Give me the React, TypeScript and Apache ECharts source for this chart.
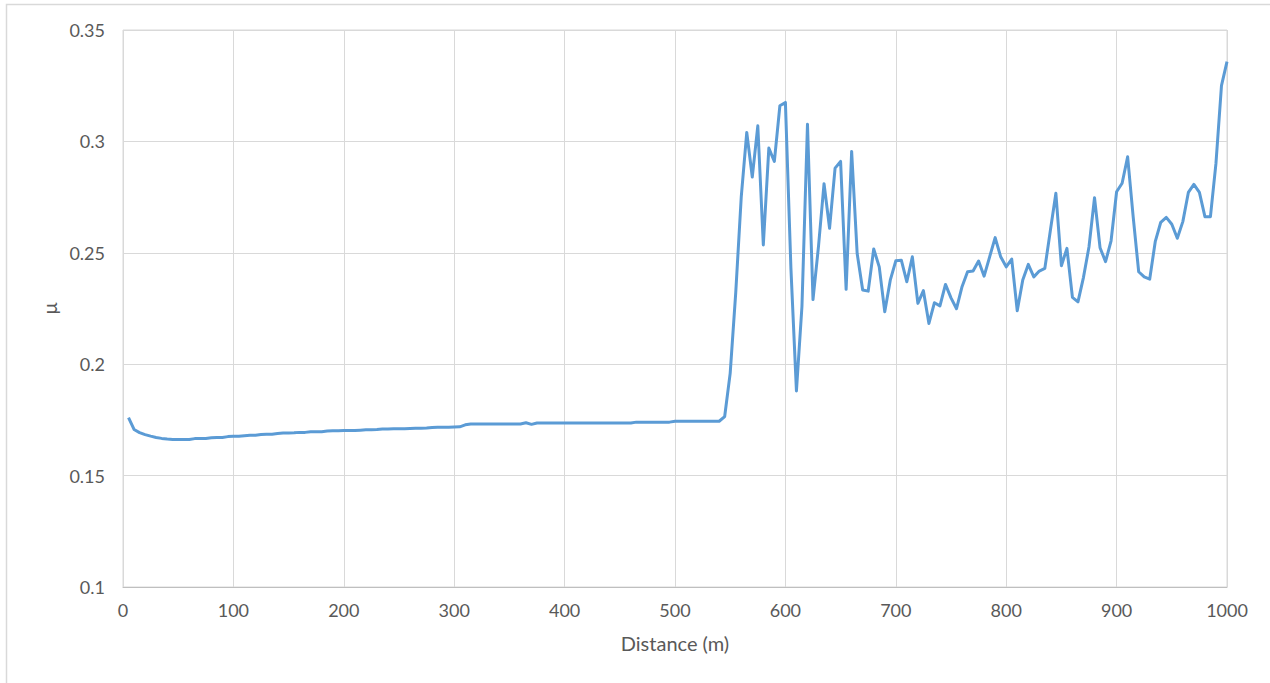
import React, { useEffect, useRef } from "react";
import * as echarts from "echarts";

// Sampling interval of the friction survey (m)
const STEP_M = 5;

// μ along the smooth section, 5 m … 540 m
const smoothSection: number[] = [
  0.1760, 0.1707, 0.1693, 0.1684, 0.1677, 0.1671, 0.1667, 0.1664, 0.1662, 0.1662,
  0.1662, 0.1662, 0.1666, 0.1667, 0.1667, 0.1670, 0.1671, 0.1671, 0.1675, 0.1677,
  0.1677, 0.1679, 0.1681, 0.1681, 0.1684, 0.1686, 0.1686, 0.1689, 0.1691, 0.1691,
  0.1692, 0.1694, 0.1694, 0.1697, 0.1697, 0.1697, 0.1700, 0.1701, 0.1701, 0.1702,
  0.1702, 0.1702, 0.1704, 0.1706, 0.1706, 0.1707, 0.1709, 0.1709, 0.1710, 0.1710,
  0.1710, 0.1711, 0.1712, 0.1713, 0.1714, 0.1716, 0.1717, 0.1717, 0.1717, 0.1718,
  0.1719, 0.1728, 0.1732, 0.1732, 0.1732, 0.1732, 0.1732, 0.1732, 0.1732, 0.1732,
  0.1732, 0.1732, 0.1737, 0.1730, 0.1736, 0.1736, 0.1736, 0.1736, 0.1736, 0.1736,
  0.1736, 0.1736, 0.1736, 0.1736, 0.1736, 0.1736, 0.1736, 0.1736, 0.1736, 0.1736,
  0.1736, 0.1736, 0.1740, 0.1740, 0.1740, 0.1740, 0.1740, 0.1740, 0.1740, 0.1744,
  0.1744, 0.1744, 0.1744, 0.1744, 0.1744, 0.1744, 0.1744, 0.1744,
];

// μ along the rough section, 545 m … 1000 m
const roughSection: number[] = [
  0.1765, 0.1960, 0.2320, 0.2750, 0.3040, 0.2840, 0.3070, 0.2535, 0.2970, 0.2910,
  0.3160, 0.3175, 0.2430, 0.1880, 0.2260, 0.3077, 0.2290, 0.2530, 0.2810, 0.2610,
  0.2880, 0.2910, 0.2336, 0.2955, 0.2497, 0.2333, 0.2328, 0.2517, 0.2437, 0.2235,
  0.2377, 0.2464, 0.2467, 0.2370, 0.2482, 0.2273, 0.2330, 0.2183, 0.2276, 0.2262,
  0.2358, 0.2298, 0.2249, 0.2348, 0.2415, 0.2418, 0.2463, 0.2395, 0.2482, 0.2568,
  0.2482, 0.2437, 0.2472, 0.2240, 0.2378, 0.2448, 0.2392, 0.2418, 0.2430, 0.2600,
  0.2767, 0.2442, 0.2520, 0.2300, 0.2280, 0.2390, 0.2527, 0.2747, 0.2523, 0.2460,
  0.2554, 0.2774, 0.2812, 0.2931, 0.2662, 0.2415, 0.2392, 0.2382, 0.2550, 0.2637,
  0.2659, 0.2628, 0.2565, 0.2640, 0.2771, 0.2807, 0.2771, 0.2662, 0.2662, 0.2901,
  0.3250, 0.3358,
];

const muValues: number[] = [...smoothSection, ...roughSection];

// Axis ranges and tick spacing
const X_MIN = 0;
const X_MAX = 1000;
const X_INTERVAL = 100;
const Y_MIN = 0.1;
const Y_MAX = 0.35;
const Y_INTERVAL = 0.05;

const FONT = "Lato, 'Open Sans', sans-serif";
const TEXT_COLOR = "#595959";
const GRID_COLOR = "#d9d9d9";

export default function App() {
  const ref = useRef<HTMLDivElement>(null);

  useEffect(() => {
    if (!ref.current) return;
    const chart = echarts.init(ref.current, undefined, { renderer: "svg" });

    const points = muValues.map((v, i) => [(i + 1) * STEP_M, v]);

    chart.setOption({
      animation: false,
      backgroundColor: "#ffffff",
      textStyle: { fontFamily: FONT },
      graphic: [
        {
          type: "rect",
          shape: { x: 6.5, y: 4.5, width: 1300, height: 700 },
          style: { fill: "none", stroke: "#d9d9d9", lineWidth: 1.5 },
          silent: true,
        },
      ],
      grid: {
        left: 123,
        right: 43,
        top: 30,
        bottom: 96,
        show: true,
        borderColor: GRID_COLOR,
        borderWidth: 1,
      },
      xAxis: {
        type: "value",
        min: X_MIN,
        max: X_MAX,
        interval: X_INTERVAL,
        name: "Distance (m)",
        nameLocation: "middle",
        nameGap: 46,
        nameTextStyle: { color: TEXT_COLOR, fontSize: 20, fontFamily: FONT },
        axisLine: { show: true, lineStyle: { color: "#bfbfbf", width: 1 } },
        axisTick: { show: false },
        axisLabel: {
          color: TEXT_COLOR,
          fontSize: 18,
          margin: 14,
          fontFamily: FONT,
          formatter: (v: number) => String(v),
        },
        splitLine: { show: true, lineStyle: { color: GRID_COLOR, width: 1 } },
      },
      yAxis: {
        type: "value",
        min: Y_MIN,
        max: Y_MAX,
        interval: Y_INTERVAL,
        name: "μ",
        nameLocation: "middle",
        nameRotate: 90,
        nameGap: 62,
        nameTextStyle: { color: TEXT_COLOR, fontSize: 20, fontFamily: FONT },
        axisLine: { show: false },
        axisTick: { show: false },
        axisLabel: {
          color: TEXT_COLOR,
          fontSize: 18,
          margin: 18,
          fontFamily: FONT,
          formatter: (v: number) => String(parseFloat(v.toFixed(2))),
        },
        splitLine: { show: true, lineStyle: { color: GRID_COLOR, width: 1 } },
      },
      series: [
        {
          type: "line",
          data: points,
          showSymbol: false,
          symbol: "none",
          lineStyle: { color: "#5b9bd5", width: 3, join: "round" },
          itemStyle: { color: "#5b9bd5" },
        },
      ],
    });

    return () => chart.dispose();
  }, []);

  return (
    <div
      ref={ref}
      style={{ position: "fixed", left: 0, top: 0, width: 1270, height: 683, background: "#fff" }}
    />
  );
}
